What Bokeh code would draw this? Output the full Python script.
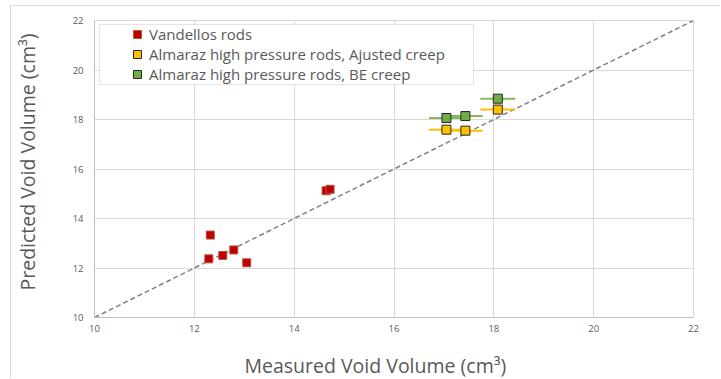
from bokeh.plotting import figure
from bokeh.models import Range1d, Legend, LegendItem, FixedTicker, BoxAnnotation, Title
from bokeh.embed import file_html
from bokeh.resources import INLINE

# ---- data ----
vand_x = [12.32, 12.29, 12.57, 12.79, 13.05, 14.64, 14.72]
vand_y = [13.33, 12.37, 12.51, 12.73, 12.21, 15.12, 15.18]
alm_x = [17.05, 17.43, 18.08]
alm_adj_y = [17.59, 17.55, 18.40]
alm_be_y = [18.06, 18.14, 18.84]
alm_xerr = [0.35, 0.35, 0.35]
diag_x = [10, 22]
diag_y = [10, 22]
ticks = [10, 12, 14, 16, 18, 20, 22]

FONT = "Open Sans"
TXT = "#595959"

p = figure(width=710, height=373, output_backend="svg", toolbar_location=None,
           x_range=Range1d(10, 22), y_range=Range1d(10, 22),
           min_border_left=82, min_border_right=28, min_border_top=14, min_border_bottom=62,
           margin=(5, 0, 0, 10),
           styles={"border-left": "1px solid #D9D9D9", "border-top": "1px solid #D9D9D9"})

p.outline_line_color = "#D9D9D9"
p.background_fill_color = "white"
p.border_fill_color = "white"

for ax in (p.xaxis, p.yaxis):
    ax.ticker = FixedTicker(ticks=ticks)
    ax.axis_line_color = "#BFBFBF"
    ax.major_tick_line_color = None
    ax.minor_tick_line_color = None
    ax.major_tick_out = 0
    ax.major_tick_in = 0
    ax.major_label_text_font = FONT
    ax.major_label_text_font_size = "9.5px"
    ax.major_label_text_color = TXT
    # blank spacer label to push the titles outward
    ax.axis_label = "\u00a0"
    ax.axis_label_text_font_size = "1px"

p.xaxis.major_label_standoff = 7
p.yaxis.major_label_standoff = 11
p.xaxis.axis_label_standoff = 11
p.yaxis.axis_label_standoff = 25

p.grid.grid_line_color = "#D9D9D9"
p.grid.grid_line_width = 1

# axis titles
p.add_layout(Title(text="Measured Void Volume (cm³)", align="left", offset=150,
                   text_font=FONT, text_font_size="19.5px", text_color=TXT,
                   text_font_style="normal", standoff=0), "below")
p.add_layout(Title(text="Predicted Void Volume (cm³)", align="left", offset=27,
                   text_font=FONT, text_font_size="19.5px", text_color=TXT,
                   text_font_style="normal", standoff=0), "left")

# diagonal reference line
p.line(diag_x, diag_y, line_color="#808080", line_width=1.5, line_dash="5 3")

# error bars
x0 = [x - e for x, e in zip(alm_x, alm_xerr)]
x1 = [x + e for x, e in zip(alm_x, alm_xerr)]
p.segment(x0=x0, x1=x1, y0=alm_adj_y, y1=alm_adj_y, line_color="#FFC000", line_width=2)
p.segment(x0=x0, x1=x1, y0=alm_be_y, y1=alm_be_y, line_color="#84B862", line_width=2)

r_v = p.scatter(vand_x, vand_y, marker="square", size=8, fill_color="#C00000",
                line_color="#B5533C", line_width=1)
r_a = p.scatter(alm_x, alm_adj_y, marker="square", size=9, fill_color="#FFC000",
                line_color="#262626", line_width=1)
r_b = p.scatter(alm_x, alm_be_y, marker="square", size=9, fill_color="#70AD47",
                line_color="#262626", line_width=1)

# legend frame
p.add_layout(BoxAnnotation(left=5, right=379, top=293, bottom=233,
                           left_units="screen", right_units="screen",
                           top_units="screen", bottom_units="screen",
                           fill_color="white", fill_alpha=1,
                           line_color="#A6A6A6", line_width=1))

legend = Legend(items=[
    LegendItem(label="Vandellos rods", renderers=[r_v]),
    LegendItem(label="Almaraz high pressure rods, Ajusted creep", renderers=[r_a]),
    LegendItem(label="Almaraz high pressure rods, BE creep", renderers=[r_b]),
], location=(33, 233))
legend.margin = 0
legend.padding = 0
legend.spacing = 0
legend.glyph_width = 20
legend.glyph_height = 20
legend.label_height = 20
legend.label_standoff = 2
legend.label_text_font = FONT
legend.label_text_font_size = "15px"
legend.label_text_color = TXT
legend.border_line_alpha = 0
legend.background_fill_alpha = 0
p.add_layout(legend, "center")

open("out.html", "w").write(file_html(p, INLINE))
